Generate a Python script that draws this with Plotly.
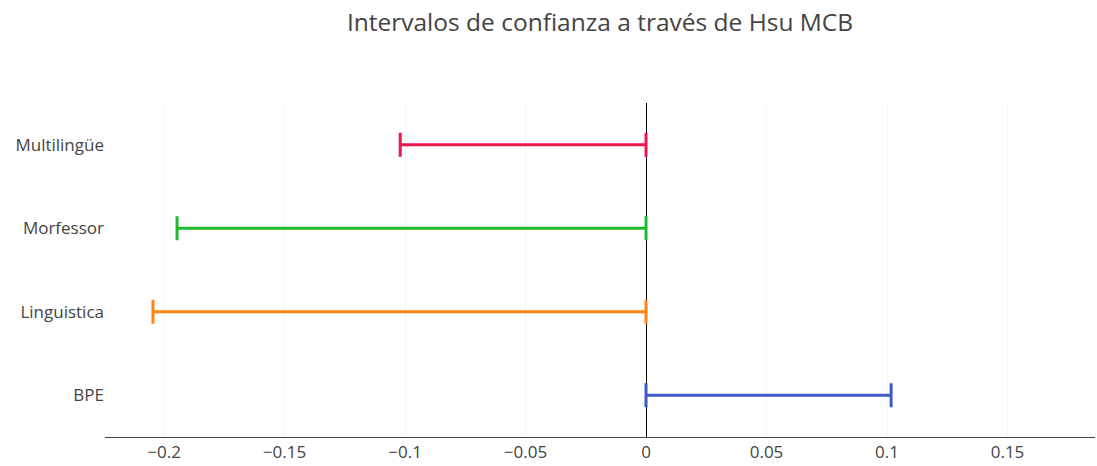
import plotly.graph_objects as go

categories = ["BPE", "Linguistica", "Morfessor", "Multilingüe"]
lower = [0.0, -0.2046, -0.1946, -0.1020]
upper = [0.1017, 0.0, 0.0, 0.0]
colors = ["#3f5bc6", "#ff8216", "#1fba2f", "#e9174b"]
tick_vals = [-0.2, -0.15, -0.1, -0.05, 0, 0.05, 0.1, 0.15]
tick_text = ["−0.2", "−0.15", "−0.1", "−0.05", "0", "0.05", "0.1", "0.15"]

fig = go.Figure()
for cat, lo, hi, col in zip(categories, lower, upper, colors):
    mid = (lo + hi) / 2
    half = (hi - lo) / 2
    fig.add_trace(go.Scatter(
        x=[mid], y=[cat], mode="markers",
        marker=dict(size=1, color=col, opacity=0),
        error_x=dict(type="data", array=[half], arrayminus=[half],
                     symmetric=False, color=col, thickness=3, width=12),
        showlegend=False, hoverinfo="skip",
    ))

fig.update_layout(
    width=1097, height=466,
    template="plotly_white",
    title=dict(text="Intervalos de confianza a través de Hsu MCB", x=0.5, xref="paper",
               y=1 - 22 / 466, yref="container", yanchor="middle",
               font=dict(family="Open Sans", size=24.5, color="#444")),
    font=dict(family="Open Sans", size=17, color="#444"),
    margin=dict(l=105, r=2, t=103, b=29),
    plot_bgcolor="white", paper_bgcolor="white",
    xaxis=dict(range=[-0.2245, 0.1863], tickvals=tick_vals, ticktext=tick_text,
               showgrid=True, gridcolor="#f5f5f5", zeroline=True, zerolinecolor="#000000",
               zerolinewidth=1, showline=True, linecolor="#444", linewidth=1, ticks=""),
    yaxis=dict(categoryorder="array", categoryarray=categories, range=[-0.5, 3.5],
               showgrid=False, zeroline=False, showline=False, ticks=""),
)

fig.write_html(
    "out.html",
    config={"displayModeBar": False},
    post_script="document.body.style.margin='0';document.body.style.overflow='hidden';",
)
